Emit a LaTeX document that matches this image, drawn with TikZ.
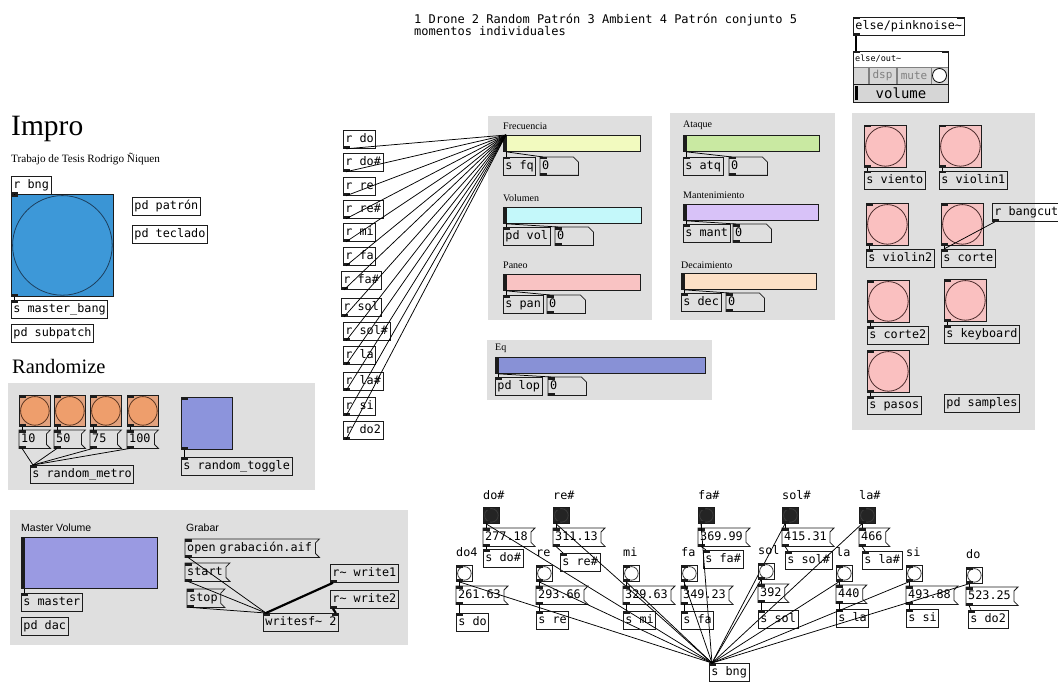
\documentclass[tikz,border=0pt]{standalone}
\usepackage{fontspec}
\setmainfont{Liberation Serif}
\setsansfont{Liberation Sans}
\setmonofont{DejaVu Sans Mono}
\usetikzlibrary{calc}

\definecolor{panelc}{HTML}{DFDFDF}
\definecolor{boxc}{HTML}{1C1C1C}
\definecolor{orsq}{HTML}{E2A27E}
\definecolor{orcirc}{HTML}{EE9E6C}
\definecolor{orline}{HTML}{5A3420}
\definecolor{bigsq}{HTML}{3A95D5}
\definecolor{bigcirc}{HTML}{3D98D8}
\definecolor{bigline}{HTML}{1D3F5E}
\definecolor{pinksq}{HTML}{F5C2C2}
\definecolor{pinkcirc}{HTML}{FAC0C0}
\definecolor{pinkline}{HTML}{4A2A2A}
\definecolor{togc}{HTML}{8C94DC}
\definecolor{mastc}{HTML}{9A9AE2}
\definecolor{fqc}{HTML}{F2FABF}
\definecolor{volc}{HTML}{C4F8FA}
\definecolor{panc}{HTML}{F9C3C3}
\definecolor{eqc}{HTML}{8891D6}
\definecolor{atqc}{HTML}{C9E9A2}
\definecolor{mantc}{HTML}{D8C2F8}
\definecolor{decc}{HTML}{FCE0C6}
\definecolor{darkb}{HTML}{242424}
\definecolor{darkc}{HTML}{3A3A3A}
\definecolor{cellc}{HTML}{D6D6D6}
\definecolor{celltext}{HTML}{808080}

\newcommand\boxfont{\fontsize{11.8}{12}\selectfont\ttfamily}
\newcommand\tld{\textasciitilde}

\tikzset{
  x=1pt, y=-1pt,
  box/.style={anchor=north west, font=\boxfont, inner xsep=2pt, inner ysep=0pt,
    minimum height=18pt, text height=8.5pt, text depth=2.5pt},
  obj/.style={box, draw=boxc, line width=0.8pt},
  boxline/.style={draw=boxc, line width=0.8pt},
  wire/.style={draw=black, line width=0.75pt},
  sig/.style={draw=black, line width=2.2pt},
  panel/.style={fill=panelc},
  notelab/.style={anchor=base west, font=\boxfont, inner sep=0pt},
  serifnote/.style={anchor=west, font=\fontsize{10}{11}\selectfont\rmfamily, inner sep=0pt},
  sanslab/.style={anchor=west, font=\fontsize{10.5}{12}\selectfont\sffamily, inner sep=0pt},
}

% inlet / outlet marks
\newcommand\pdin[1]{\fill[boxc] (#1.north west) rectangle ($(#1.north west)+(7,2.5)$);}
\newcommand\pdinr[1]{\fill[boxc] (#1.north east) rectangle ($(#1.north east)+(-7,2.5)$);}
\newcommand\pdout[1]{\fill[boxc] (#1.south west) rectangle ($(#1.south west)+(7,-2.5)$);}
% connection from outlet to left inlet
\newcommand\pdwire[2]{\draw[wire] ($(#1.south west)+(3,0)$) -- ($(#2.north west)+(3,0)$);}
% object box
\newcommand\pdobj[4][]{\node[obj,#1] (#2) at (#3) {#4};}
% message box with its flag-shaped right side
\newcommand\pdmsg[4][]{%
  \node[box,#1] (#2) at (#3) {#4};
  \draw[boxline] (#2.north west) -- ($(#2.north east)+(5,0)$) -- ($(#2.north east)+(1,4)$)
    -- ($(#2.south east)+(1,-4)$) -- ($(#2.south east)+(5,0)$) -- (#2.south west) -- cycle;
  \pdin{#2}\pdout{#2}}
% number box with a cut corner
\newcommand\pdnum[2]{%
  \node[box,text width=34pt] (#1) at (#2) {0};
  \draw[boxline] (#1.north west) -- ($(#1.north east)+(-5,0)$) -- ($(#1.north east)+(0,5)$)
    -- (#1.south east) -- (#1.south west) -- cycle;
  \pdin{#1}\pdout{#1}}
% bang: square with an inscribed circle
\newcommand\pdbang[6]{%
  \node[anchor=north west, inner sep=0pt, minimum size=#3pt, draw=boxc, line width=0.8pt, fill=#4] (#1) at (#2) {};
  \draw[fill=#5, draw=#6, line width=0.8pt] (#1.center) circle[radius=#3/2-1.2];
  \pdin{#1}\pdout{#1}}
% horizontal slider with its knob at the left end
\newcommand\pdslider[5]{%
  \node[anchor=north west, inner sep=0pt, minimum width=#3pt, minimum height=#4pt, draw=boxc, line width=0.8pt, fill=#5] (#1) at (#2) {};
  \fill[boxc] ($(#1.north west)+(0.5,0)$) rectangle ($(#1.south west)+(3.5,0)$);}

\begin{document}
\begin{tikzpicture}
\fill[white] (0,0) rectangle (1058,682);
\useasboundingbox (0,0) rectangle (1058,682);

% ---------- grey canvases ----------
\fill[panel] (8,383) rectangle (315,490);
\fill[panel] (10,510) rectangle (408,645);
\fill[panel] (488,116) rectangle (652,320);
\fill[panel] (670,113) rectangle (835,320);
\fill[panel] (487,340) rectangle (712,400);
\fill[panel] (852,113) rectangle (1035,430);

% ---------- title block ----------
\node[anchor=base west, inner sep=0pt, font=\fontsize{29.5}{30}\selectfont\rmfamily] (title) at (11,136) {Impro};
\node[anchor=base west, inner sep=0pt, font=\fontsize{11.2}{12}\selectfont\rmfamily] (thesis) at (11,163) {Trabajo de Tesis Rodrigo Ñiquen};
\node[anchor=north west, inner sep=0pt, align=left, font=\fontsize{12}{12}\selectfont\ttfamily] (comment) at (414,14)
  {1 Drone 2 Random Patrón 3 Ambient 4 Patrón conjunto 5\\momentos individuales};

\pdobj{rbng}{11,176}{r bng}\pdout{rbng}
\pdbang{bigbang}{11,194}{102}{bigsq}{bigcirc}{bigline}
\pdobj{smb}{11,300}{s master\_bang}\pdin{smb}
\pdobj{subp}{11,324}{pd subpatch}
\pdobj{patron}{132,197}{pd patrón}
\pdobj{teclado}{132,225}{pd teclado}
\pdwire{rbng}{bigbang}
\pdwire{bigbang}{smb}

% ---------- Randomize ----------
\node[anchor=base west, inner sep=0pt, font=\fontsize{20.5}{21}\selectfont\rmfamily] (randt) at (12,373) {Randomize};
\pdobj{rmetro}{30,465}{s random\_metro}\pdin{rmetro}
\foreach \qn/\qx/\qv in {a/19/10, b/54/50, c/90/75, d/127/100}{
  \pdbang{rb\qn}{\qx,395}{31}{orsq}{orcirc}{orline}
  \pdmsg[text width=22pt]{rm\qn}{\qx,430}{\qv}
  \pdwire{rb\qn}{rm\qn}
  \pdwire{rm\qn}{rmetro}
}
\node[anchor=north west, inner sep=0pt, minimum width=51pt, minimum height=52pt, draw=boxc, line width=0.8pt, fill=togc] (tgl) at (181,397) {};
\pdin{tgl}\pdout{tgl}
\pdobj{rtog}{181,457}{s random\_toggle}\pdin{rtog}
\pdwire{tgl}{rtog}

% ---------- Master Volume / Grabar ----------
\node[sanslab] (mvlab) at (21,528) {Master Volume};
\pdslider{mvol}{21,537}{136}{51}{mastc}
\pdobj{smaster}{21,593}{s master}\pdin{smaster}
\pdobj{dac}{21,617}{pd dac}
\pdwire{mvol}{smaster}

\node[sanslab] (grab) at (186,528) {Grabar};
\pdmsg[text width=125pt]{open}{185,539}{open grabación.aif}
\pdmsg{start}{185,563}{start}
\pdmsg{stop}{187,589}{stop}
\pdobj{rwa}{330,564}{r\tld{} write1}\pdout{rwa}
\pdobj{rwb}{330,590}{r\tld{} write2}\pdout{rwb}
\pdobj{wsf}{263,613}{writesf\tld{} 2}\pdin{wsf}\pdinr{wsf}
\pdwire{open}{wsf}
\pdwire{start}{wsf}
\pdwire{stop}{wsf}
\draw[sig] ($(rwa.south west)+(3,0)$) -- ($(wsf.north west)+(3,0)$);
\draw[sig] ($(rwb.south west)+(3,0)$) -- ($(wsf.north east)+(-3,0)$);

% ---------- envelope / tone sliders ----------
\node[serifnote] (fqlab) at (503,126) {Frecuencia};
\pdslider{fq}{503,135}{137}{16}{fqc}
\pdobj{sfq}{503,157}{s fq}\pdin{sfq}
\pdnum{nfq}{540,157}
\node[serifnote] (vollab) at (503,198) {Volumen};
\pdslider{vol}{503,207}{138}{16}{volc}
\pdobj{pvol}{503,227}{pd vol}\pdin{pvol}
\pdnum{nvol}{555,227}
\node[serifnote] (panlab) at (503,265) {Paneo};
\pdslider{pan}{503,274}{137}{16}{panc}
\pdobj{span}{503,295}{s pan}\pdin{span}
\pdnum{npan}{547,295}
\node[serifnote] (eqlab) at (495,348) {Eq};
\pdslider{eq}{495,357}{210}{16}{eqc}
\pdobj{plop}{495,377}{pd lop}\pdin{plop}
\pdnum{neq}{548,377}
\node[serifnote] (atqlab) at (683,125) {Ataque};
\pdslider{atq}{683,135}{136}{16}{atqc}
\pdobj{satq}{683,157}{s atq}\pdin{satq}
\pdnum{natq}{729,157}
\node[serifnote] (mantlab) at (683,195) {Mantenimiento};
\pdslider{mant}{683,204}{135}{16}{mantc}
\pdobj{smant}{683,224}{s mant}\pdin{smant}
\pdnum{nmant}{733,224}
\node[serifnote] (declab) at (681,265) {Decaimiento};
\pdslider{dec}{681,273}{135}{16}{decc}
\pdobj{sdec}{681,293}{s dec}\pdin{sdec}
\pdnum{ndec}{726,293}
\foreach \qa/\qb/\qc in {fq/sfq/nfq, vol/pvol/nvol, pan/span/npan, eq/plop/neq, atq/satq/natq, mant/smant/nmant, dec/sdec/ndec}{
  \pdwire{\qa}{\qb}
  \pdwire{\qa}{\qc}
}

% ---------- note receivers feeding the frequency slider ----------
\foreach \qn/\qt/\qx/\qy in {rdo/r do/343/130, rdos/r do\#/343/153, rre/r re/343/177,
    rres/r re\#/343/200, rmi/r mi/343/223, rfa/r fa/343/247, rfas/r fa\#/341/271,
    rsol/r sol/341/298, rsols/r sol\#/343/322, rla/r la/343/346, rlas/r la\#/343/372,
    rsi/r si/343/397, rdoo/r do2/343/421}{
  \pdobj{\qn}{\qx,\qy}{\qt}\pdout{\qn}
  \pdwire{\qn}{fq}
}

% ---------- sample triggers ----------
\foreach \qn/\qx/\qy/\qs/\qt in {vi/864/125/864/s viento, va/939/125/939/s violin1,
    vb/866/203/866/s violin2, co/941/203/941/s corte, cb/867/280/867/s corte2,
    kb/944/279/944/s keyboard, ps/867/350/867/s pasos}{
  \pdbang{b\qn}{\qx,\qy}{42}{pinksq}{pinkcirc}{pinkline}
  \pdobj{s\qn}{\qs,\qy+46}{\qt}\pdin{s\qn}
  \pdwire{b\qn}{s\qn}
}
\pdobj{rcut}{992,203}{r bangcut}\pdout{rcut}
\draw[wire] ($(rcut.south west)+(3,0)$) -- ($(sco.north west)+(3,0)$);
\pdobj{samples}{944,394}{pd samples}

% ---------- audio output ----------
\pdobj{pink}{853,17}{else/pinknoise\tld}\pdin{pink}\pdinr{pink}\pdout{pink}
\node[anchor=north west, inner sep=0pt, minimum width=95pt, minimum height=51pt, draw=boxc, line width=0.8pt, fill=white] (eout) at (853,51) {};
\pdin{eout}\pdinr{eout}
\node[anchor=west, inner sep=0pt, font=\fontsize{8.5}{9}\selectfont\ttfamily] (eoutlab) at (855,59) {else/out\tld};
\draw[fill=cellc, draw=celltext, line width=0.6pt] (853,67) rectangle (868,84);
\node[anchor=center, inner sep=0pt, minimum width=27pt, minimum height=17pt, draw=celltext, line width=0.6pt, fill=cellc,
  font=\fontsize{11}{12}\selectfont\ttfamily, text=celltext] (dsp) at (882.5,75.5) {dsp};
\node[anchor=center, inner sep=0pt, minimum width=34pt, minimum height=17pt, draw=celltext, line width=0.6pt, fill=cellc,
  font=\fontsize{11}{12}\selectfont\ttfamily, text=celltext] (mute) at (914,75.5) {mute};
\draw[fill=cellc, draw=celltext, line width=0.6pt] (931,67) rectangle (948,84);
\draw[fill=white, draw=black, line width=0.8pt] (939.5,75.5) circle[radius=7];
\node[anchor=north west, inner sep=0pt, minimum width=95pt, minimum height=18pt, draw=boxc, line width=0.6pt, fill=cellc] (volrow) at (853,84) {};
\node[anchor=center, inner sep=0pt, font=\fontsize{14}{14}\selectfont\ttfamily] (voltext) at (901,93) {volume};
\fill[black] (855,86) rectangle (858,100);
\draw[sig] ($(pink.south west)+(3,0)$) -- ($(eout.north west)+(3,0)$);
\draw[boxline] (eout.north west) rectangle (eout.south east);

% ---------- keyboard of note bangs ----------
\pdobj{sbng}{709,663}{s bng}\pdin{sbng}
\foreach \qn/\ql/\qx/\qv/\qa/\qb/\qt in {cs/do\#/483/277.18/483/549/s do\#, ds/re\#/553/311.13/560/553/s re\#,
    fs/fa\#/698/369.99/703/550/s fa\#, gs/sol\#/782/415.31/785/551/s sol\#, as/la\#/859/466/862/551/s la\#}{
  \node[notelab] (l\qn) at (\qx,499) {\ql};
  \pdbang{b\qn}{\qx,507}{16}{darkb}{darkb}{darkc}
  \pdmsg{m\qn}{\qx,528}{\qv}
  \pdobj{s\qn}{\qa,\qb}{\qt}\pdin{s\qn}
  \pdwire{b\qn}{m\qn}
  \pdwire{m\qn}{s\qn}
  \pdwire{b\qn}{sbng}
}
\foreach \qn/\ql/\qx/\qy/\qv/\qm/\qa/\qb/\qt in {c/do4/456/565/261.63/586/456/613/s do,
    d/re/536/565/293.66/586/536/611/s re, e/mi/623/565/329.63/586/623/611/s mi,
    f/fa/681/565/349.23/586/681/611/s fa, g/sol/758/563/392/584/758/610/s sol,
    a/la/836/565/440/585/836/609/s la, b/si/906/565/493.88/586/906/609/s si,
    cc/do/966/567/523.25/587/968/610/s do2}{
  \node[notelab] (l\qn) at (\qx,\qy-9) {\ql};
  \pdbang{b\qn}{\qx,\qy}{16}{white}{white}{darkc}
  \pdmsg{m\qn}{\qx,\qm}{\qv}
  \pdobj{s\qn}{\qa,\qb}{\qt}\pdin{s\qn}
  \pdwire{b\qn}{m\qn}
  \pdwire{m\qn}{s\qn}
  \pdwire{b\qn}{sbng}
}
\end{tikzpicture}
\end{document}
